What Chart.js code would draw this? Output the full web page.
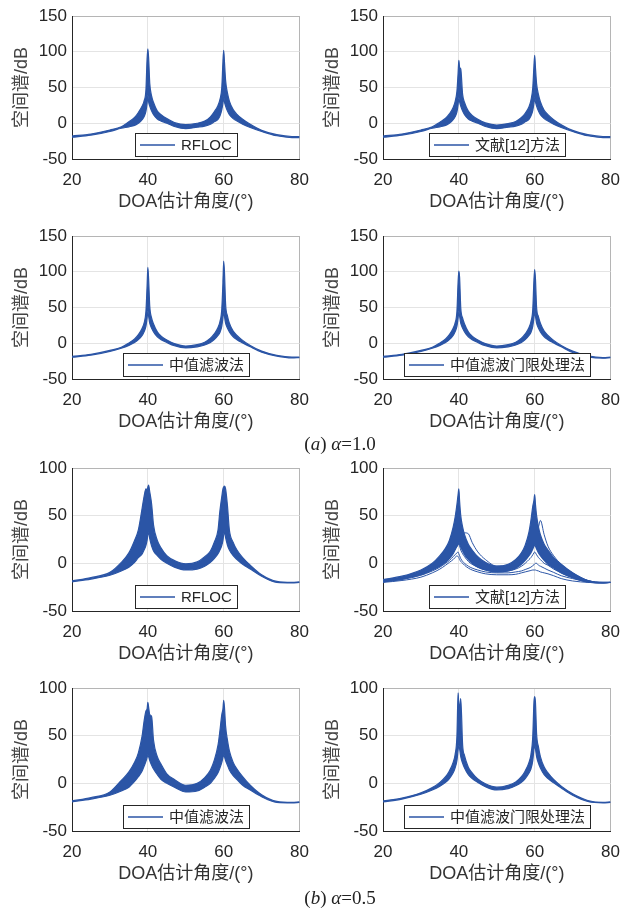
<!DOCTYPE html>
<html>
<head>
<meta charset="utf-8">
<script src="https://cdn.jsdelivr.net/npm/chart.js@4.4.1/dist/chart.umd.min.js"></script>
<style>
  body { margin: 0; background: #fff; }
  #page { position: relative; width: 640px; height: 910px; }
  .panel { position: absolute; width: 320px; height: 220px; }
  .caption { position: absolute; left: 0; width: 680px; text-align: center; font-family: "Liberation Serif", serif; font-size: 19px; color: #222; }
  .caption i { font-style: italic; }
</style>
</head>
<body>
<div id="page">
  <div class="panel" style="left:0;top:0"><canvas id="c1"></canvas></div>
  <div class="panel" style="left:311px;top:0"><canvas id="c2"></canvas></div>
  <div class="panel" style="left:0;top:220px"><canvas id="c3"></canvas></div>
  <div class="panel" style="left:311px;top:220px"><canvas id="c4"></canvas></div>
  <div class="caption" style="top:433px">(<i>a</i>) <i>α</i>=1.0</div>
  <div class="panel" style="left:0;top:452px"><canvas id="c5"></canvas></div>
  <div class="panel" style="left:311px;top:452px"><canvas id="c6"></canvas></div>
  <div class="panel" style="left:0;top:672px"><canvas id="c7"></canvas></div>
  <div class="panel" style="left:311px;top:672px"><canvas id="c8"></canvas></div>
  <div class="caption" style="top:887px">(<i>b</i>) <i>α</i>=0.5</div>
</div>
<script>
// DOA angles (deg) shared by every spectrum
const angles = [20, 25, 30, 33, 35, 36.5, 37.5, 38.5, 39, 39.5, 39.8, 40, 40.2, 40.5, 41, 41.5, 42.5, 43.5, 45, 47,
                50, 53, 55, 56.5, 57.5, 58.5, 59, 59.5, 59.8, 60, 60.2, 60.5, 61, 61.5, 62.5, 63.5, 65, 67, 70, 74, 78, 80];

const methodNames = ["RFLOC", "文献[12]方法", "中值滤波法", "中值滤波门限处理法"];
const xTicks = [20, 40, 60, 80];
const yTicksA10 = [-50, 0, 50, 100, 150];
const yTicksA05 = [-50, 0, 50, 100];

// alpha = 1.0 : upper / lower edge of the Monte Carlo band (dB)
const a10RflocHi = [-18, -15, -9.5, -5, 2, 8, 15, 24, 31, 47, 90, 104, 92, 56, 38, 29, 17, 12, 6.5, 1, -2, 0, 3, 9, 16, 25, 33, 50, 86, 102, 86, 60, 42, 31, 19, 12.5, 5.5, -1.5, -10, -16, -18.5, -18.5];
const a10RflocLo = [-19.5, -16.5, -11.5, -7, -5, -3, 0, 5, 9, 17, 28, 40, 30, 24, 17, 12, 6, 3, 0, -4.5, -7.5, -5.5, -4, -1.5, 2, 5.5, 10, 19, 28, 38, 30, 24, 17, 12, 6.5, 3, -1.5, -6, -11.5, -17.5, -20, -20];
const a10RefHi = [-18, -15, -9.5, -5, 1.5, 7, 13, 22, 30, 45, 70, 88, 78, 76, 40, 29, 17, 11, 5.5, 0.5, -2.5, -0.5, 2.5, 8, 14, 23, 32, 50, 80, 95, 78, 55, 40, 30, 18, 12, 5, -2, -10, -16, -18.5, -18.5];
const a10RefLo = [-19.5, -16.5, -11.5, -7, -5, -3, 0, 5, 9, 16, 26, 36, 30, 24, 17, 12, 6, 3, 0, -4.5, -7.5, -5.5, -4, -1.5, 2, 5.5, 10, 18, 28, 36, 30, 24, 17, 12, 6.5, 3, -1.5, -6, -11.5, -17.5, -20, -20];
const a10MedHi = [-18.5, -15.5, -10, -5.5, 0.5, 6, 12, 21, 28, 45, 80, 106, 90, 52, 35, 27, 16, 10, 4.5, -0.5, -4, -2, 1.5, 7, 13, 22, 30, 48, 85, 115, 100, 55, 38, 28, 17, 11, 4, -3, -11, -17, -19.5, -19.5];
const a10MedLo = [-19.5, -16.5, -11.5, -7, -3, 1, 5, 11, 16, 24, 35, 45, 38, 28, 21, 16, 9, 5, 1, -3.5, -6.5, -5, -2.5, 1, 5, 11, 15, 24, 36, 46, 38, 28, 21, 16, 9, 5, 0.5, -5, -12.5, -18, -20.5, -20];
const a10ThrHi = [-18.5, -15.5, -10, -5.5, 0.5, 6, 12, 21, 28, 45, 85, 101, 92, 50, 35, 27, 16, 10, 4.5, -0.5, -4, -2, 1.5, 7, 13, 22, 30, 48, 88, 103, 90, 50, 37, 28, 17, 11, 4, -3, -11, -17.5, -20, -19.5];
const a10ThrLo = [-19.5, -16.5, -11.5, -7, -3, 1, 5, 11, 16, 24, 35, 45, 38, 28, 21, 16, 9, 5, 1, -3.5, -6.5, -5, -2.5, 1, 5, 11, 15, 24, 36, 45, 38, 28, 21, 16, 9, 5, 0.5, -5, -13, -19, -21, -20];

// alpha = 0.5
const a05RflocHi = [-18.5, -15, -9.5, 1, 11, 24, 35, 58, 70, 78, 77, 80, 82, 75, 62, 40, 24, 16, 8, 3, -0.5, 1.5, 7, 13, 22, 35, 55, 70, 78, 80, 81, 78, 60, 35, 22, 14, 6, -2, -12, -19, -20, -19.5];
const a05RflocLo = [-19.5, -16.5, -12.5, -8, -4, 1, 6, 10, 14, 19, 24, 30, 32, 26, 18, 13, 8, 4, 0, -4, -7, -6, -3, 1, 5, 10, 14, 19, 24, 30, 33, 27, 19, 14, 8, 4, -1, -6, -13.5, -20, -20.5, -20];
const a05RefHi = [-17, -13.5, -7, 0, 8, 16, 24, 38, 48, 62, 72, 78, 65, 50, 38, 30, 20, 14, 7, 1, -3, -1, 4, 11, 19, 33, 45, 60, 66, 72, 62, 50, 38, 30, 20, 14, 6, -1, -10, -18, -20, -20];
const a05RefLo = [-19.5, -16.5, -12, -7, -3, 1, 5, 10, 14, 18, 20, 22, 20, 17, 13, 9, 4, 0, -4, -7, -9, -8, -5, -1, 3, 8, 11, 15, 18, 20, 18, 15, 11, 8, 3, -1, -5, -10, -15, -19.5, -20.5, -20];
// stray runs of the 文献[12] method
const a05RefRun1 = [-18, -15, -9, -4, 0, 4, 8, 12, 15, 18, 20, 22, 24, 27, 30, 32, 31, 22, 12, 4, -3, -2, 2, 8, 14, 24, 32, 42, 48, 50, 44, 36, 28, 22, 14, 9, 3, -3, -11, -18, -20, -20];
const a05RefRun2 = [-18.5, -15.5, -10, -4, 1, 6, 11, 18, 22, 28, 32, 35, 30, 24, 18, 13, 7, 3, -2, -5, -7, -5, -1, 3, 7, 11, 14, 17, 20, 23, 26, 30, 38, 45, 30, 18, 8, -1, -10, -18, -20, -20];
const a05RefRun3 = [-20, -18, -14.5, -10, -6, -2, 1, 4, 6, 8, 7, 6, 4, 2, 0, -2, -5, -7, -9, -11, -12, -12, -11.5, -10, -9, -8, -7.5, -7, -7, -7, -7, -7.5, -8, -9, -10, -11, -13, -16, -18.5, -20, -20.5, -20];
const a05RefRun4 = [-19.5, -17, -12.5, -8, -4, 0, 3, 7, 9, 11, 12, 10, 8, 5, 2, 0, -3, -5, -7, -9, -10, -10, -9, -8, -6.5, -5, -4, -2.5, -1.5, -0.5, 0, 0, -2, -3, -5, -7, -9.5, -13, -16, -19.5, -20.5, -20];
const a05RefRun5 = [-19, -16, -11, -6, -2, 3, 7, 12, 15, 18, 19, 20, 18, 14, 10, 7, 2, -1, -4, -7, -9, -8, -6, -3, 0, 4, 6, 9, 11, 12, 11, 9, 6, 4, 0, -2, -6, -10, -15, -19.5, -20.5, -20];
const a05MedHi = [-18.5, -15, -9, 3, 12, 22, 32, 50, 65, 76, 78, 85, 80, 72, 70, 45, 28, 20, 10, 4, -2, 0, 6, 14, 24, 40, 55, 72, 78, 87, 80, 60, 45, 34, 22, 15, 7, -2, -12, -19, -20, -19.5];
const a05MedLo = [-19.5, -16.5, -12.5, -8, -4, 2, 7, 13, 18, 23, 27, 30, 28, 24, 19, 15, 9, 4, 0, -4, -9, -8, -4, 0, 5, 11, 16, 22, 27, 30, 28, 24, 19, 14, 8, 4, -2, -7, -14, -20, -20.5, -20];
const a05ThrHi = [-18.5, -15.5, -10, -4.5, 1, 7, 13, 22, 30, 50, 95, 82, 80, 89, 40, 29, 17, 11, 4.5, -0.5, -4, -2, 1.5, 7, 13, 22, 30, 50, 85, 91, 85, 52, 38, 28, 17, 11, 4, -3, -11, -18, -20, -19.5];
const a05ThrLo = [-19.5, -16.5, -11.5, -7, -3, 1, 5, 11, 16, 24, 35, 40, 36, 28, 21, 16, 9, 5, 1, -3.5, -7, -5.5, -2.5, 1, 5, 11, 15, 24, 36, 40, 36, 28, 21, 16, 9, 5, 0.5, -5, -12.5, -19, -20.5, -20];

const blue = "#2b55a6";
const fontFam = '"Liberation Sans", "Noto Sans CJK SC", sans-serif';

function toPoints(values) {
    return values.map((v, i) => ({ x: angles[i], y: v }));
}

// legend box drawn inside the plot, bottom centre (like MATLAB 'south')
const insideLegend = {
    id: "insideLegend",
    afterDatasetsDraw(chart, args, opts) {
        const { ctx, chartArea } = chart;
        ctx.save();
        ctx.font = "15px " + fontFam;
        let tw = ctx.measureText(opts.text).width;
        let w = Math.round(5 + 35 + 6 + tw + 5);
        let h = 23;
        let x = Math.round((chartArea.left + chartArea.right) / 2 - w / 2);
        let y = Math.round(chartArea.bottom - 3 - h);
        ctx.fillStyle = "#fff";
        ctx.fillRect(x, y, w, h);
        ctx.strokeStyle = "#262626";
        ctx.lineWidth = 1;
        ctx.strokeRect(x + 0.5, y + 0.5, w, h);
        ctx.strokeStyle = blue;
        ctx.lineWidth = 1.3;
        ctx.beginPath();
        ctx.moveTo(x + 5, y + h / 2 + 0.5);
        ctx.lineTo(x + 40, y + h / 2 + 0.5);
        ctx.stroke();
        ctx.fillStyle = "#262626";
        ctx.textBaseline = "middle";
        ctx.fillText(opts.text, x + 46, y + h / 2 + 1);
        ctx.restore();
    }
};

function makeChart(id, name, hi, lo, runs, yTicks) {
    let datasets = [
        { data: toPoints(hi), borderColor: blue, borderWidth: 1.2, fill: false },
        { data: toPoints(lo), borderColor: blue, borderWidth: 1.2, backgroundColor: blue, fill: "-1" }
    ];
    runs.forEach(r => {
        datasets.push({ data: toPoints(r), borderColor: blue, borderWidth: 1, fill: false });
    });
    let yMin = yTicks[0], yMax = yTicks[yTicks.length - 1];

    new Chart(document.getElementById(id), {
        type: "line",
        data: { datasets: datasets },
        plugins: [insideLegend],
        options: {
            responsive: true,
            maintainAspectRatio: false,
            animation: false,
            layout: { padding: { top: 16, right: 14, left: 0, bottom: 0 } },
            elements: { point: { radius: 0 }, line: { cubicInterpolationMode: "monotone" } },
            plugins: {
                legend: { display: false },
                tooltip: { enabled: false },
                insideLegend: { text: name }
            },
            scales: {
                x: {
                    type: "linear", min: 20, max: 80,
                    afterBuildTicks: axis => { axis.ticks = xTicks.map(v => ({ value: v })); },
                    afterFit: axis => { axis.height = 61; },
                    ticks: { padding: 11, color: "#262626", font: { size: 17 } },
                    grid: { drawTicks: false, color: c => c.tick && c.tick.value === 80 ? "#b5b5b5" : "#e4e4e4" },
                    border: { color: "#262626" },
                    title: { display: true, text: "DOA估计角度/(°)", color: "#333", font: { size: 18 }, padding: { top: 0, bottom: 7 } }
                },
                y: {
                    min: yMin, max: yMax,
                    afterBuildTicks: axis => { axis.ticks = yTicks.map(v => ({ value: v })); },
                    afterFit: axis => { axis.width = 72; },
                    ticks: { padding: 5, color: "#262626", font: { size: 17 } },
                    grid: { drawTicks: false, color: c => c.tick && c.tick.value === yMax ? "#b5b5b5" : "#e4e4e4" },
                    border: { color: "#262626" },
                    title: { display: true, text: "空间谱/dB", color: "#444", font: { size: 18 }, padding: { top: 11, bottom: 0 } }
                }
            }
        }
    });
}

Chart.defaults.font.family = fontFam;

makeChart("c1", methodNames[0], a10RflocHi, a10RflocLo, [], yTicksA10);
makeChart("c2", methodNames[1], a10RefHi, a10RefLo, [], yTicksA10);
makeChart("c3", methodNames[2], a10MedHi, a10MedLo, [], yTicksA10);
makeChart("c4", methodNames[3], a10ThrHi, a10ThrLo, [], yTicksA10);
makeChart("c5", methodNames[0], a05RflocHi, a05RflocLo, [], yTicksA05);
makeChart("c6", methodNames[1], a05RefHi, a05RefLo, [a05RefRun1, a05RefRun2, a05RefRun3, a05RefRun4, a05RefRun5], yTicksA05);
makeChart("c7", methodNames[2], a05MedHi, a05MedLo, [], yTicksA05);
makeChart("c8", methodNames[3], a05ThrHi, a05ThrLo, [], yTicksA05);
</script>
</body>
</html>
